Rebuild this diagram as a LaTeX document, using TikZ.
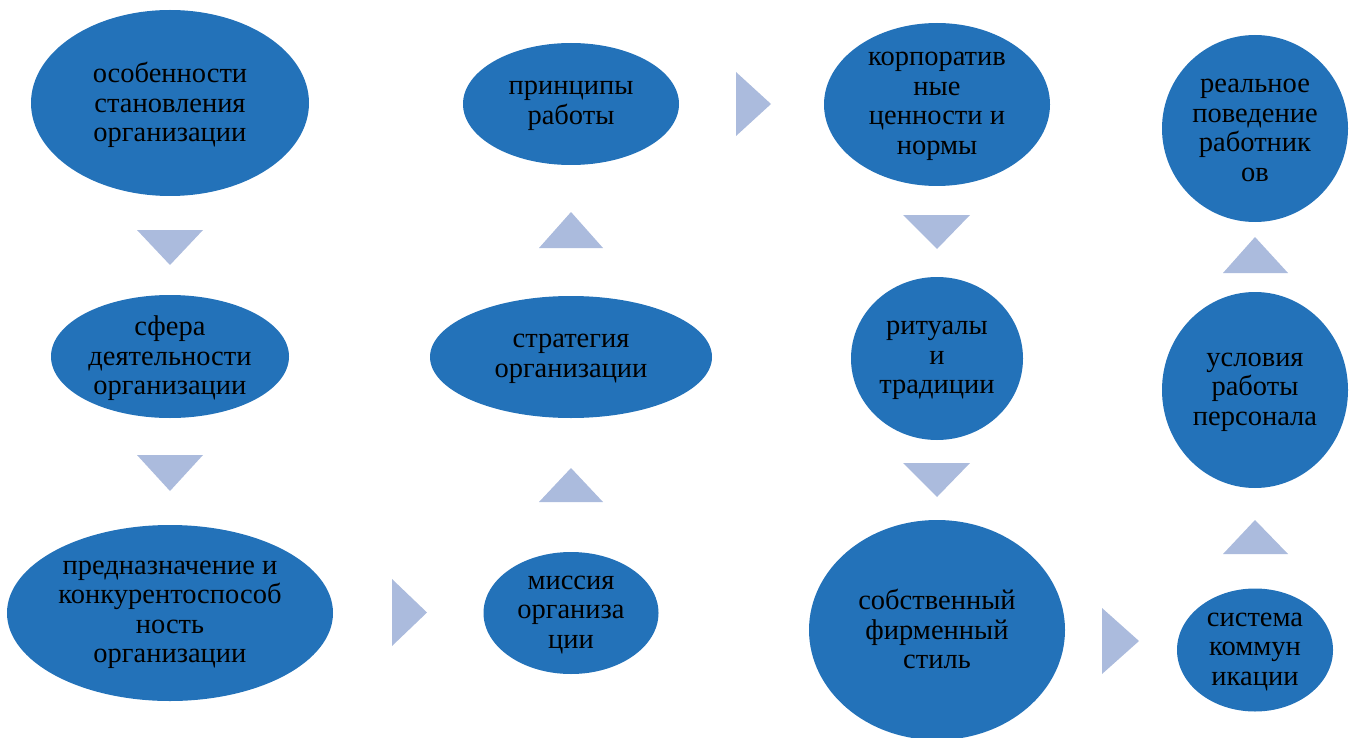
\documentclass[tikz,border=0pt]{standalone}
\usepackage{fontspec}
\setmainfont{Liberation Serif}
\usetikzlibrary{shapes.geometric}
\definecolor{blobblue}{RGB}{35,114,185}
\definecolor{arrowgray}{RGB}{171,187,221}
\tikzset{
  blob/.style={ellipse, fill=blobblue, draw=none, inner sep=0pt, outer sep=0pt},
  txt/.style={align=center, text=black, inner sep=0pt, yshift=-2pt, font=\fontsize{28.5}{29.5}\selectfont},
  tri/.style={fill=arrowgray, draw=none}
}
\begin{document}
\begin{tikzpicture}[x=1pt,y=-1pt]
\useasboundingbox (0,0) rectangle (1351,738);
% ellipses
\node[blob, minimum width=278pt, minimum height=186pt] (e1) at (170,103) {};
\node[blob, minimum width=238pt, minimum height=123pt] (e2) at (170,356.5) {};
\node[blob, minimum width=326pt, minimum height=176pt] (e3) at (170,613) {};
\node[blob, minimum width=175pt, minimum height=122pt] (e4) at (571,613) {};
\node[blob, minimum width=282pt, minimum height=122pt] (e5) at (571,357) {};
\node[blob, minimum width=216pt, minimum height=122pt] (e6) at (571,104) {};
\node[blob, minimum width=226pt, minimum height=163pt] (e7) at (937,104.5) {};
\node[blob, minimum width=172pt, minimum height=163pt] (e8) at (937,358.5) {};
\node[blob, minimum width=256pt, minimum height=220pt] (e9) at (937,630) {};
\node[blob, minimum width=156pt, minimum height=123pt] (e10) at (1255,650) {};
\node[blob, minimum width=186pt, minimum height=196pt] (e11) at (1255,390) {};
\node[blob, minimum width=186pt, minimum height=187pt] (e12) at (1255,128.5) {};
% texts
\node[txt] (t1) at (e1) {особенности\\становления\\организации};
\node[txt] (t2) at (e2) {сфера\\деятельности\\организации};
\node[txt] (t3) at (e3) {предназначение и\\конкурентоспособ\\ность\\организации};
\node[txt] (t4) at (e4) {миссия\\организа\\ции};
\node[txt] (t5) at (e5) {стратегия\\организации};
\node[txt] (t6) at (e6) {принципы\\работы};
\node[txt] (t7) at (e7) {корпоратив\\ные\\ценности и\\нормы};
\node[txt] (t8) at (e8) {ритуалы\\и\\традиции};
\node[txt] (t9) at ([yshift=3pt]e9) {собственный\\фирменный\\стиль};
\node[txt] (t10) at (e10) {система\\коммун\\икации};
\node[txt] (t11) at (e11) {условия\\работы\\персонала};
\node[txt] (t12) at (e12) {реальное\\поведение\\работник\\ов};
% arrows (triangles)
\fill[tri] (137,230) -- (203,230) -- (170,265) -- cycle;
\fill[tri] (137,455) -- (203,455) -- (170,491) -- cycle;
\fill[tri] (392,579) -- (392,646) -- (427,612.5) -- cycle;
\fill[tri] (539,502) -- (603,502) -- (571,468) -- cycle;
\fill[tri] (539,248) -- (603,248) -- (571,212) -- cycle;
\fill[tri] (736,72) -- (736,136) -- (771,104) -- cycle;
\fill[tri] (903,215) -- (970,215) -- (937,249) -- cycle;
\fill[tri] (903,463) -- (970,463) -- (937,497) -- cycle;
\fill[tri] (1102,608) -- (1102,674) -- (1139,641) -- cycle;
\fill[tri] (1223,554) -- (1288,554) -- (1255,520) -- cycle;
\fill[tri] (1223,273) -- (1288,273) -- (1255,237) -- cycle;
\end{tikzpicture}
\end{document}
